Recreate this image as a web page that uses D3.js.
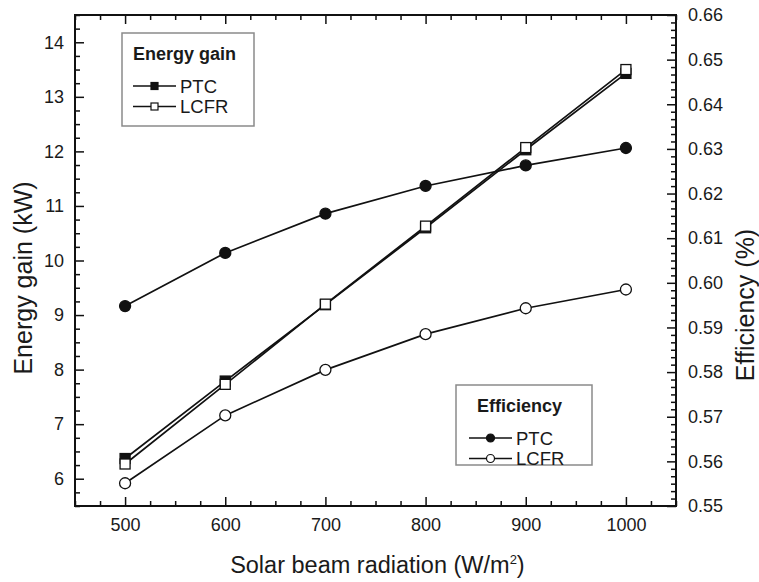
<!DOCTYPE html>
<html>
<head>
<meta charset="utf-8">
<script src="https://cdn.jsdelivr.net/npm/d3@7"></script>
<style>
  body { margin: 0; background: #fff; }
  svg text { font-family: "Liberation Sans", Arial, sans-serif; fill: #1a1a1a; }
</style>
</head>
<body>
<svg id="chart"></svg>
<script>
// Data
var radiation = [500, 600, 700, 800, 900, 1000];
var energyPTC = [6.37, 7.79, 9.19, 10.60, 12.03, 13.43];
var energyLCFR = [6.27, 7.73, 9.20, 10.63, 12.07, 13.50];
var effPTC = [0.5948, 0.6067, 0.6155, 0.6217, 0.6263, 0.6302];
var effLCFR = [0.5551, 0.5703, 0.5805, 0.5885, 0.5943, 0.5985];

var xTicks = [500, 600, 700, 800, 900, 1000];
var yLeftTicks = [6, 7, 8, 9, 10, 11, 12, 13, 14];
var yRightTicks = [0.55, 0.56, 0.57, 0.58, 0.59, 0.60, 0.61, 0.62, 0.63, 0.64, 0.65, 0.66];

function main() {
    const W = 759, H = 582;
    const margin = { top: 15, right: 83, bottom: 76, left: 75 };
    const width = W - margin.left - margin.right;
    const height = H - margin.top - margin.bottom;

    const svg = d3.select('#chart')
      .attr('width', W)
      .attr('height', H);

    const g = svg.append('g')
      .attr('transform', `translate(${margin.left}, ${margin.top})`);

    const xScale = d3.scaleLinear().domain([450, 1050]).range([0, width]);
    const yLeft = d3.scaleLinear().domain([5.5, 14.5]).range([height, 0]);
    const yRight = d3.scaleLinear().domain([0.55, 0.66]).range([height, 0]);

    // minor tick positions
    const xMinor = d3.range(450, 1051, 25).filter(v => v % 100 !== 0);
    const yLeftMinor = d3.range(22, 59).map(i => i / 4).filter(v => v % 1 !== 0);
    const yRightMinor = d3.range(0, 67).map(i => 0.55 + i * 0.01 / 6).filter((v, i) => i % 6 !== 0);

    function styleAxis(sel) {
      sel.select('.domain').remove();
      sel.selectAll('line').attr('stroke', '#111').attr('stroke-width', 1.5);
      sel.selectAll('text').style('font-size', '18px').attr('fill', '#1a1a1a');
    }

    // bottom
    g.append('g').attr('transform', `translate(0, ${height})`)
      .call(d3.axisBottom(xScale).tickValues(xTicks).tickSizeInner(-9).tickSizeOuter(0).tickPadding(12).tickFormat(d3.format('d')))
      .call(styleAxis);
    g.append('g').attr('transform', `translate(0, ${height})`)
      .call(d3.axisBottom(xScale).tickValues(xMinor).tickSize(-5).tickFormat(''))
      .call(styleAxis);
    // top
    g.append('g')
      .call(d3.axisTop(xScale).tickValues(xTicks).tickSize(-9).tickFormat(''))
      .call(styleAxis);
    g.append('g')
      .call(d3.axisTop(xScale).tickValues(xMinor).tickSize(-5).tickFormat(''))
      .call(styleAxis);
    // left
    g.append('g')
      .call(d3.axisLeft(yLeft).tickValues(yLeftTicks).tickSizeInner(-9).tickSizeOuter(0).tickPadding(11).tickFormat(d3.format('d')))
      .call(styleAxis);
    g.append('g')
      .call(d3.axisLeft(yLeft).tickValues(yLeftMinor).tickSize(-5).tickFormat(''))
      .call(styleAxis);
    // right
    g.append('g').attr('transform', `translate(${width}, 0)`)
      .call(d3.axisRight(yRight).tickValues(yRightTicks).tickSizeInner(-9).tickSizeOuter(0).tickPadding(12).tickFormat(d3.format('.2f')))
      .call(styleAxis);
    g.append('g').attr('transform', `translate(${width}, 0)`)
      .call(d3.axisRight(yRight).tickValues(yRightMinor).tickSize(-5).tickFormat(''))
      .call(styleAxis);

    // frame
    g.append('rect')
      .attr('width', width).attr('height', height)
      .attr('fill', 'none').attr('stroke', '#111').attr('stroke-width', 2);

    // series
    const series = [
      { vals: energyPTC, y: yLeft, shape: 'square', fill: '#111' },
      { vals: energyLCFR, y: yLeft, shape: 'square', fill: '#fff' },
      { vals: effPTC, y: yRight, shape: 'circle', fill: '#111' },
      { vals: effLCFR, y: yRight, shape: 'circle', fill: '#fff' }
    ];

    series.forEach(function (s) {
      const line = d3.line()
        .x((d, i) => xScale(radiation[i]))
        .y(d => s.y(d));
      g.append('path')
        .datum(s.vals)
        .attr('d', line)
        .attr('fill', 'none')
        .attr('stroke', '#111')
        .attr('stroke-width', 1.7);
    });

    series.forEach(function (s) {
      const pts = g.append('g').selectAll('.pt')
        .data(s.vals)
        .enter();
      if (s.shape === 'square') {
        pts.append('rect')
          .attr('x', (d, i) => xScale(radiation[i]) - 5)
          .attr('y', d => s.y(d) - 5)
          .attr('width', 10).attr('height', 10)
          .attr('fill', s.fill).attr('stroke', '#111').attr('stroke-width', 1.3);
      } else {
        pts.append('circle')
          .attr('cx', (d, i) => xScale(radiation[i]))
          .attr('cy', d => s.y(d))
          .attr('r', 5.5)
          .attr('fill', s.fill).attr('stroke', '#111').attr('stroke-width', 1.3);
      }
    });

    // legends
    function legend(x, y, w, h, title, titleX, lineX0, items, shape) {
      const lg = svg.append('g').attr('transform', `translate(${x}, ${y})`);
      lg.append('rect').attr('width', w).attr('height', h)
        .attr('fill', '#fff').attr('stroke', '#8a8a8a').attr('stroke-width', 1.5);
      lg.append('text').attr('x', titleX).attr('y', 27)
        .style('font-size', '18px').style('font-weight', 'bold').text(title);
      items.forEach(function (it, i) {
        const cy = 53 + i * 20.5;
        lg.append('line').attr('x1', lineX0).attr('x2', lineX0 + 43)
          .attr('y1', cy).attr('y2', cy).attr('stroke', '#111').attr('stroke-width', 1.6);
        if (shape === 'square') {
          lg.append('rect').attr('x', lineX0 + 21.5 - 3.5).attr('y', cy - 3.5)
            .attr('width', 7).attr('height', 7)
            .attr('fill', it.fill).attr('stroke', '#111').attr('stroke-width', 1.2);
        } else {
          lg.append('circle').attr('cx', lineX0 + 21.5).attr('cy', cy).attr('r', 4)
            .attr('fill', it.fill).attr('stroke', '#111').attr('stroke-width', 1.2);
        }
        lg.append('text').attr('x', lineX0 + 47).attr('y', cy + 6.5)
          .style('font-size', '18.5px').text(it.name);
      });
    }
    legend(122, 33, 132, 93, 'Energy gain', 11, 11,
      [{ name: 'PTC', fill: '#111' }, { name: 'LCFR', fill: '#fff' }], 'square');
    legend(456, 385, 136, 80, 'Efficiency', 21, 13,
      [{ name: 'PTC', fill: '#111' }, { name: 'LCFR', fill: '#fff' }], 'circle');

    // axis titles
    const xt = svg.append('text')
      .attr('x', margin.left + xScale(700) + 52).attr('y', 573)
      .attr('text-anchor', 'middle').style('font-size', '23.5px');
    xt.append('tspan').text('Solar beam radiation (W/m');
    xt.append('tspan').attr('dy', -9).style('font-size', '13px').text('2');
    xt.append('tspan').attr('dy', 9).text(')');

    svg.append('text')
      .attr('transform', 'translate(32, 278) rotate(-90)')
      .attr('text-anchor', 'middle').style('font-size', '25px')
      .text('Energy gain (kW)');

    svg.append('text')
      .attr('transform', 'translate(754, 305) rotate(-90)')
      .attr('text-anchor', 'middle').style('font-size', '25px')
      .text('Efficiency (%)');
}
main();
</script>
</body>
</html>
